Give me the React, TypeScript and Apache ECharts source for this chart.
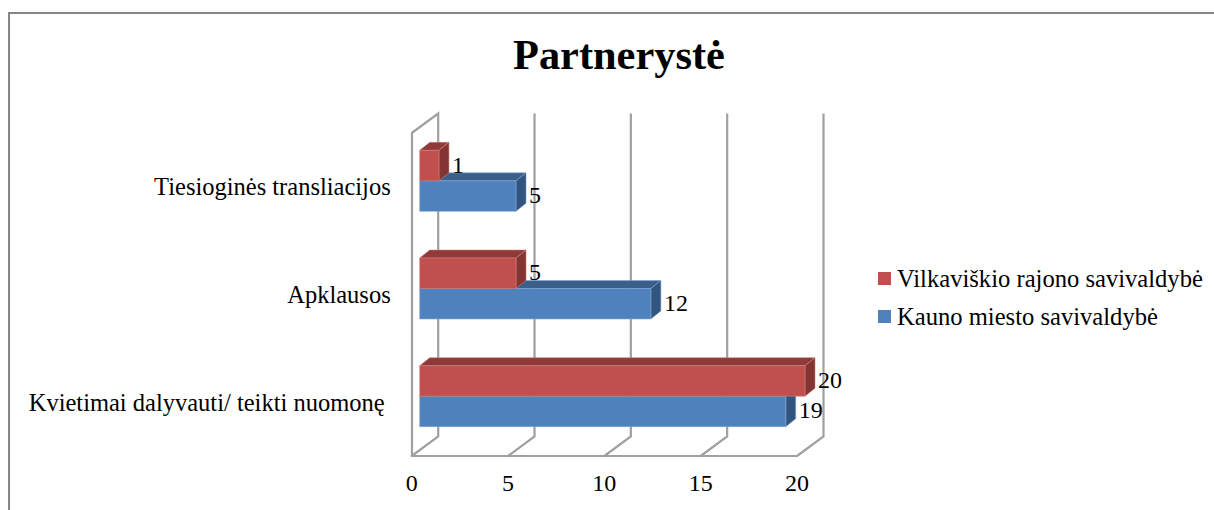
import React, { useEffect, useRef } from "react";
import * as echarts from "echarts";

const chartTitle = "Partnerystė";
const categories = ["Kvietimai dalyvauti/ teikti nuomonę ", "Apklausos", "Tiesioginės transliacijos"];
const kaunoName = "Kauno miesto savivaldybė";
const vilkaviskisName = "Vilkaviškio rajono savivaldybė";
const kaunoValues = [19, 12, 5];
const vilkaviskisValues = [20, 5, 1];
const ticks = [0, 5, 10, 15, 20];

const FONT = '"Liberation Serif", "Times New Roman", serif';
const WALL = "#a0a0a0";
const WALL_DX = 26.5;
const WALL_DY = -19.5;
const BAR_SHIFT_X = 8;
const BAR_SHIFT_Y = -6;
const BAR_DX = 10;
const BAR_DY = -8;
const BAR_RATIO = 0.283;

type Shade = { front: string; top: string; side: string; edge: string };
const blue: Shade = { front: "#4f81bd", top: "#3a5f8b", side: "#32557f", edge: "#7fa3cf" };
const red: Shade = { front: "#c0504d", top: "#8f3a38", side: "#843432", edge: "#cf7f7c" };

function barRenderer(shade: Shade, above: boolean) {
  return (_params: any, api: any) => {
    const value = api.value(0);
    const start = api.coord([0, api.value(1)]);
    const end = api.coord([value, api.value(1)]);
    const h = api.size([0, 1])[1] * BAR_RATIO;
    const x0 = start[0] + BAR_SHIFT_X;
    const x1 = end[0] + BAR_SHIFT_X;
    const mid = start[1] + BAR_SHIFT_Y;
    const yTop = above ? mid - h : mid;
    const yBot = yTop + h;
    const edge = { stroke: shade.edge, lineWidth: 0.6 };
    return {
      type: "group",
      children: [
        {
          type: "polygon",
          shape: { points: [[x0, yTop], [x0 + BAR_DX, yTop + BAR_DY], [x1 + BAR_DX, yTop + BAR_DY], [x1, yTop]] },
          style: { fill: shade.top, ...edge },
        },
        {
          type: "polygon",
          shape: { points: [[x1, yTop], [x1 + BAR_DX, yTop + BAR_DY], [x1 + BAR_DX, yBot + BAR_DY], [x1, yBot]] },
          style: { fill: shade.side, ...edge },
        },
        {
          type: "rect",
          shape: { x: x0, y: yTop, width: x1 - x0, height: h },
          style: { fill: shade.front, ...edge },
        },
        {
          type: "text",
          style: {
            x: x1 + 13,
            y: (yTop + yBot) / 2 - 1,
            text: String(value),
            font: `24px ${FONT}`,
            fill: "#000",
            textAlign: "left",
            textVerticalAlign: "middle",
          },
        },
      ],
    };
  };
}

function wallRenderer(params: any, api: any) {
  const tick = api.value(0);
  const x = api.coord([tick, 0])[0];
  const sys = params.coordSys;
  const bottom = sys.y + sys.height;
  const top = sys.y;
  const style = { fill: "none", stroke: WALL, lineWidth: 2.2 };
  const points: number[][] = [
    [x, bottom],
    [x + WALL_DX, bottom + WALL_DY],
    [x + WALL_DX, top + WALL_DY],
  ];
  if (tick === ticks[0]) points.push([x, top]);
  return { type: "polyline", shape: { points }, style };
}

export default function App() {
  const ref = useRef<HTMLDivElement>(null);
  useEffect(() => {
    if (!ref.current) return;
    const chart = echarts.init(ref.current, undefined, { renderer: "svg" });
    chart.setOption({
      animation: false,
      backgroundColor: "#fff",
      title: {
        text: chartTitle,
        left: 508,
        top: 28,
        textStyle: { fontFamily: FONT, fontSize: 42.4, fontWeight: "bold", color: "#000" },
      },
      legend: {
        orient: "vertical",
        left: 873,
        top: 261,
        data: [vilkaviskisName, kaunoName],
        icon: "rect",
        itemWidth: 13,
        itemHeight: 13,
        itemGap: 13,
        textStyle: { fontFamily: FONT, fontSize: 24.6, color: "#000", padding: [0, 0, 0, 1] },
        selectedMode: false,
      },
      grid: { left: 411.7, top: 133, width: 385.3, height: 323, containLabel: false },
      xAxis: {
        type: "value",
        min: 0,
        max: 20,
        interval: 5,
        axisLine: { show: true, lineStyle: { color: WALL, width: 2.2 } },
        axisTick: { show: false },
        splitLine: { show: false },
        axisLabel: { margin: 15, fontFamily: FONT, fontSize: 24, color: "#000" },
      },
      yAxis: {
        type: "category",
        data: categories,
        axisLine: { show: true, onZero: false, lineStyle: { color: WALL, width: 2.2 } },
        axisTick: { show: false },
        splitLine: { show: false },
        axisLabel: { margin: 21, fontFamily: FONT, fontSize: 24.5, color: "#000", padding: [0, 0, 2, 0] },
      },
      series: [
        {
          type: "custom",
          name: "walls",
          silent: true,
          renderItem: wallRenderer,
          data: ticks.map((t) => [t, 0]),
          encode: { x: 0, y: 1 },
        },
        {
          type: "custom",
          name: kaunoName,
          itemStyle: { color: blue.front },
          renderItem: barRenderer(blue, false),
          data: kaunoValues.map((v, i) => [v, i]),
          encode: { x: 0, y: 1 },
        },
        {
          type: "custom",
          name: vilkaviskisName,
          itemStyle: { color: red.front },
          renderItem: barRenderer(red, true),
          data: vilkaviskisValues.map((v, i) => [v, i]),
          encode: { x: 0, y: 1 },
        },
      ],
      graphic: [
        {
          type: "polyline",
          silent: true,
          shape: { points: [[9, 510], [9, 13], [1214, 13]] },
          style: { fill: "none", stroke: "#868686", lineWidth: 2 },
        },
      ],
    });
    return () => chart.dispose();
  }, []);
  return <div ref={ref} style={{ position: "absolute", left: 0, top: 0, width: 1214, height: 510 }} />;
}
